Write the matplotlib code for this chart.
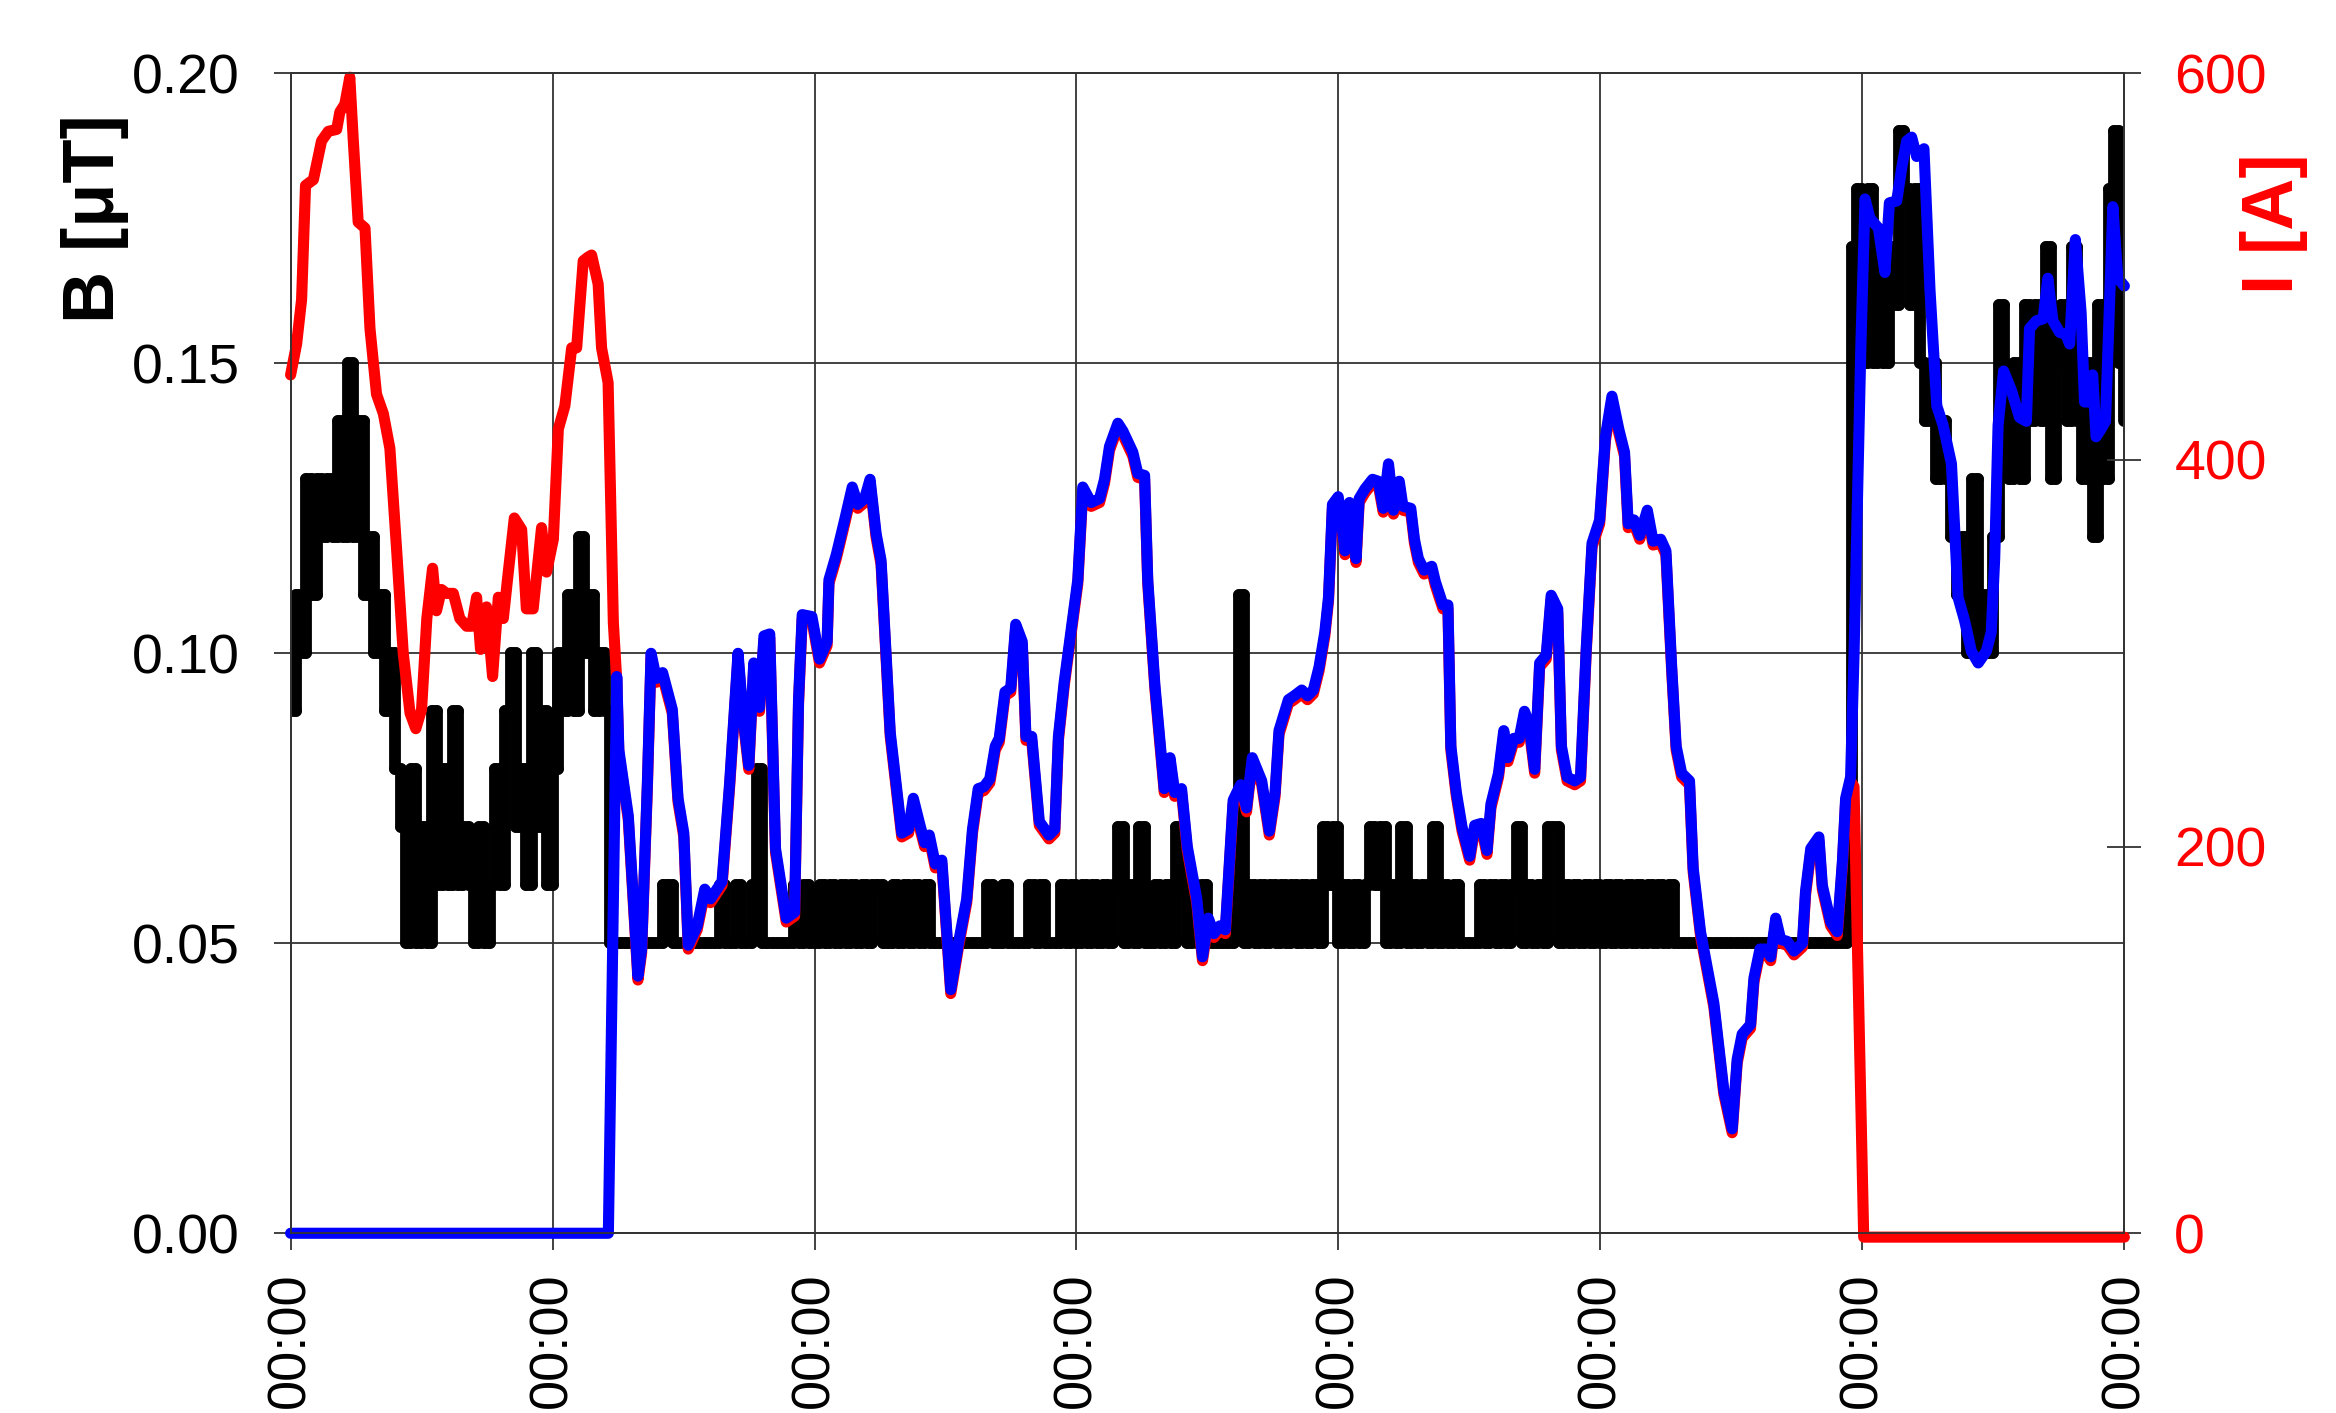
import matplotlib
matplotlib.use('Agg')
import matplotlib.pyplot as plt
import numpy as np
from matplotlib.collections import LineCollection

plt.rcParams['font.family'] = ['Liberation Sans', 'DejaVu Sans']

# magnetic field B, hundredths of uT, one sample every 0.02 of a grid interval
b_0 = [9, 11, 10, 13, 11, 13, 12, 13, 12, 14,
       12, 15, 12, 14, 11, 12, 10, 11, 9, 10,
       8, 7, 5, 8, 5, 7, 5, 9, 6, 8,
       6, 9, 6, 7, 6, 5, 7, 5, 6, 8,
       6, 9, 10, 7, 8, 6, 10, 7, 9, 6]
b_1 = [8, 10, 9, 11, 9, 12, 10, 11, 9, 10,
       9, 5, 5, 5, 5, 5, 5, 5, 5, 5,
       5, 6, 6, 5, 5, 5, 5, 5, 5, 5,
       5, 5, 6, 5, 5, 6, 5, 5, 6, 8,
       5, 5, 5, 5, 5, 5, 6, 5, 6, 5]
b_2 = [5, 6, 5, 6, 5, 6, 5, 6, 5, 6,
       5, 6, 6, 5, 5, 6, 5, 6, 5, 6,
       5, 6, 5, 5, 5, 5, 5, 5, 5, 5,
       5, 5, 5, 6, 5, 5, 6, 5, 5, 5,
       5, 6, 5, 6, 5, 5, 5, 6, 5, 6]
b_3 = [5, 6, 5, 6, 5, 6, 5, 6, 7, 5,
       6, 5, 7, 5, 5, 6, 5, 6, 5, 7,
       6, 5, 6, 5, 6, 5, 5, 5, 5, 5,
       6, 11, 5, 6, 5, 6, 5, 6, 5, 6,
       5, 6, 5, 6, 5, 6, 5, 7, 6, 7]
b_4 = [5, 6, 5, 6, 5, 6, 7, 6, 7, 5,
       6, 5, 7, 5, 6, 5, 6, 5, 7, 5,
       6, 5, 6, 5, 5, 5, 5, 6, 5, 6,
       5, 6, 5, 6, 7, 5, 6, 5, 6, 5,
       7, 7, 5, 6, 5, 6, 5, 6, 5, 6]
b_5 = [5, 6, 5, 6, 5, 6, 5, 6, 5, 6,
       5, 6, 5, 6, 5, 5, 5, 5, 5, 5,
       5, 5, 5, 5, 5, 5, 5, 5, 5, 5,
       5, 5, 5, 5, 5, 5, 5, 5, 5, 5,
       5, 5, 5, 5, 5, 5, 5, 6, 17, 18]
b_6 = [15, 18, 15, 17, 15, 17, 16, 19, 18, 16,
       18, 15, 14, 15, 13, 14, 13, 12, 11, 12,
       10, 13, 10, 11, 10, 12, 16, 14, 13, 15,
       13, 16, 14, 16, 14, 17, 13, 15, 16, 14,
       17, 14, 13, 15, 12, 16, 13, 18, 19, 15]
b_end = [14]

# current I [A], first part (red only)
red_head_x = [0.000, 0.023, 0.042, 0.057, 0.087, 0.118, 0.144, 0.176, 0.188, 0.207,
              0.226, 0.239, 0.258, 0.284, 0.303, 0.328, 0.354, 0.379, 0.405, 0.430,
              0.456, 0.478, 0.500, 0.520, 0.542, 0.557, 0.576, 0.595, 0.621, 0.646,
              0.672, 0.691, 0.710, 0.725, 0.748, 0.771, 0.793, 0.812, 0.831, 0.854,
              0.882, 0.900, 0.926, 0.958, 0.977, 1.003, 1.022, 1.047, 1.073, 1.092,
              1.117, 1.136, 1.149, 1.174, 1.187, 1.212, 1.232]
red_head_i = [446, 462, 485, 544, 547, 567, 572, 573, 582, 586,
              600, 568, 525, 522, 470, 436, 426, 408, 355, 302,
              271, 263, 273, 320, 346, 324, 335, 333, 333, 320,
              316, 316, 331, 304, 326, 290, 331, 320, 344, 372,
              366, 325, 325, 367, 344, 361, 418, 430, 460, 460,
              505, 507, 508, 493, 460, 442, 318]

# middle part, red and blue almost identical
mid_x = [1.245, 1.253, 1.289, 1.326, 1.340, 1.362, 1.376, 1.396, 1.420, 1.457,
         1.479, 1.501, 1.518, 1.552, 1.581, 1.603, 1.647, 1.676, 1.708, 1.727,
         1.749, 1.768, 1.790, 1.807, 1.829, 1.851, 1.892, 1.924, 1.939, 1.953,
         1.990, 2.019, 2.048, 2.055, 2.083, 2.115, 2.144, 2.165, 2.191, 2.212,
         2.235, 2.254, 2.289, 2.311, 2.333, 2.359, 2.377, 2.399, 2.420, 2.438,
         2.461, 2.486, 2.520, 2.552, 2.581, 2.603, 2.625, 2.647, 2.669, 2.690,
         2.705, 2.727, 2.749, 2.768, 2.793, 2.807, 2.829, 2.858, 2.895, 2.917,
         2.931, 2.953, 2.990, 3.005, 3.024, 3.056, 3.088, 3.107, 3.126, 3.158,
         3.177, 3.215, 3.234, 3.260, 3.272, 3.299, 3.335, 3.357, 3.375, 3.401,
         3.423, 3.459, 3.481, 3.503, 3.525, 3.547, 3.568, 3.598, 3.612, 3.627,
         3.649, 3.671, 3.707, 3.736, 3.758, 3.773, 3.809, 3.831, 3.860, 3.882,
         3.904, 3.926, 3.948, 3.962, 3.977, 3.999, 4.025, 4.042, 4.067, 4.079,
         4.101, 4.130, 4.152, 4.171, 4.191, 4.210, 4.232, 4.246, 4.276, 4.290,
         4.305, 4.327, 4.356, 4.370, 4.399, 4.418, 4.429, 4.450, 4.472, 4.501,
         4.520, 4.545, 4.567, 4.582, 4.611, 4.631, 4.647, 4.669, 4.690, 4.710,
         4.727, 4.749, 4.768, 4.793, 4.812, 4.837, 4.851, 4.873, 4.902, 4.924,
         4.946, 4.968, 4.997, 5.019, 5.044, 5.070, 5.092, 5.106, 5.128, 5.150,
         5.179, 5.201, 5.230, 5.250, 5.272, 5.289, 5.310, 5.340, 5.354, 5.382,
         5.433, 5.471, 5.503, 5.522, 5.541, 5.573, 5.586, 5.609, 5.631, 5.650,
         5.669, 5.688, 5.713, 5.739, 5.771, 5.783, 5.803, 5.834, 5.847, 5.879,
         5.904, 5.924, 5.936, 5.955]
mid_i = [288, 250, 216, 133, 147, 233, 300, 287, 290, 271,
         225, 207, 149, 159, 178, 173, 182, 233, 300, 268,
         242, 295, 272, 309, 310, 199, 163, 166, 276, 320,
         319, 297, 306, 338, 351, 369, 386, 377, 380, 390,
         362, 348, 259, 233, 207, 209, 225, 213, 202, 206,
         191, 193, 126, 152, 173, 209, 230, 231, 235, 252,
         256, 280, 282, 315, 306, 257, 257, 213, 206, 209,
         257, 285, 323, 338, 386, 378, 380, 390, 407, 419,
         415, 404, 393, 392, 338, 284, 230, 246, 228, 230,
         200, 173, 143, 163, 155, 159, 157, 224, 228, 232,
         220, 246, 234, 208, 228, 260, 276, 278, 281, 278,
         281, 293, 311, 329, 377, 381, 353, 378, 349, 380,
         385, 390, 389, 375, 398, 374, 389, 376, 375, 359,
         349, 343, 345, 337, 325, 325, 252, 228, 210, 195,
         211, 212, 198, 222, 238, 260, 246, 256, 256, 270,
         264, 240, 295, 299, 330, 323, 252, 236, 234, 236,
         303, 357, 369, 412, 433, 416, 404, 367, 369, 361,
         374, 358, 359, 353, 293, 252, 238, 234, 189, 156,
         119, 74, 54, 90, 103, 108, 132, 147, 147, 143,
         163, 152, 151, 146, 150, 177, 199, 205, 180, 161,
         156, 193, 225, 236]

red_tail_x = [5.968, 6.005, 7.000]
red_tail_i = [233, 0, 0]

blue_head_x = [0.000, 1.213]
blue_head_i = [0, 0]
blue_tail_x = [5.968, 5.981, 5.994, 6.010, 6.029, 6.061, 6.086, 6.103, 6.131, 6.150,
               6.169, 6.188, 6.207, 6.235, 6.258, 6.284, 6.308, 6.340, 6.365, 6.390,
               6.416, 6.442, 6.473, 6.492, 6.505, 6.518, 6.539, 6.569, 6.600, 6.626,
               6.638, 6.664, 6.690, 6.708, 6.727, 6.753, 6.777, 6.791, 6.813, 6.835,
               6.848, 6.867, 6.879, 6.892, 6.911, 6.928, 6.956, 6.975, 7.000]
blue_tail_i = [299, 379, 458, 535, 525, 520, 497, 533, 534, 551,
               565, 567, 557, 561, 488, 428, 418, 398, 329, 317,
               301, 295, 301, 311, 349, 418, 446, 436, 422, 420,
               468, 472, 473, 494, 472, 466, 465, 460, 514, 476,
               430, 430, 444, 412, 416, 420, 531, 494, 490]

x_ticks = [0, 1, 2, 3, 4, 5, 6, 7]
x_labels = ['00:00'] * 8
b_ticks = [0.00, 0.05, 0.10, 0.15, 0.20]
i_ticks = [0, 200, 400, 600]

b_vals = np.array(b_0 + b_1 + b_2 + b_3 + b_4 + b_5 + b_6 + b_end) / 100.0
b_t = np.arange(len(b_vals)) * 0.02
red_x = red_head_x + mid_x + red_tail_x
red_i = red_head_i + mid_i + red_tail_i
blue_x = blue_head_x + mid_x + blue_tail_x
blue_i = blue_head_i + mid_i + blue_tail_i

# step trace as separate pieces, so the thick back-and-forth strokes
# don't cancel each other out when agg fills them
segs = []
for k in range(len(b_vals) - 1):
    segs.append([(b_t[k], b_vals[k]), (b_t[k + 1], b_vals[k])])
    segs.append([(b_t[k + 1], b_vals[k]), (b_t[k + 1], b_vals[k + 1])])

grid_c = '#333333'

fig = plt.figure(figsize=(23.36, 14.13), dpi=100)
ax = fig.add_axes([0.1244, 0.1272, 0.7850, 0.8209])
ax2 = ax.twinx()

lc = LineCollection(segs, colors='black', linewidths=8.5, capstyle='round',
                    joinstyle='round')
ax.add_collection(lc)
# red sits a hair lower so it peeks out under the blue trace
ax2.plot(red_x, np.array(red_i) - 2, color='#ff0000', lw=8.0, clip_on=False,
         solid_capstyle='round', solid_joinstyle='round')
ax2.plot(blue_x, blue_i, color='#0000ff', lw=8.0, clip_on=False,
         solid_capstyle='round', solid_joinstyle='round')

ax.set_xlim(0, 7)
ax.set_ylim(0, 0.2)
ax2.set_ylim(0, 600)

ax.set_xticks(x_ticks)
ax.set_xticklabels(x_labels, rotation=90)
ax.set_yticks(b_ticks)
ax.set_yticklabels(['%.2f' % v for v in b_ticks])
ax2.set_yticks(i_ticks)

ax.grid(True, color=grid_c, lw=1.3)
ax.set_axisbelow(True)

ax.tick_params(axis='x', direction='out', length=12.5, width=1.3, color=grid_c,
               labelsize=39, pad=16)
ax.tick_params(axis='y', direction='out', length=12.5, width=1.3, color=grid_c,
               labelsize=40, pad=24)
ax2.tick_params(axis='y', direction='inout', length=24, width=1.3, color=grid_c,
                labelsize=40, labelcolor='#ff0000', pad=24)

for a in (ax, ax2):
    for s in a.spines.values():
        s.set_color(grid_c)
        s.set_linewidth(1.3)

fig.text(0.0407, 0.845, 'B [μT]', rotation=90, fontsize=52, fontweight='bold',
         ha='center', va='center')
fig.text(0.9735, 0.8415, 'I [A]', rotation=90, fontsize=52, fontweight='bold',
         color='#ff0000', ha='center', va='center')

fig.savefig('out.png', dpi=100)
